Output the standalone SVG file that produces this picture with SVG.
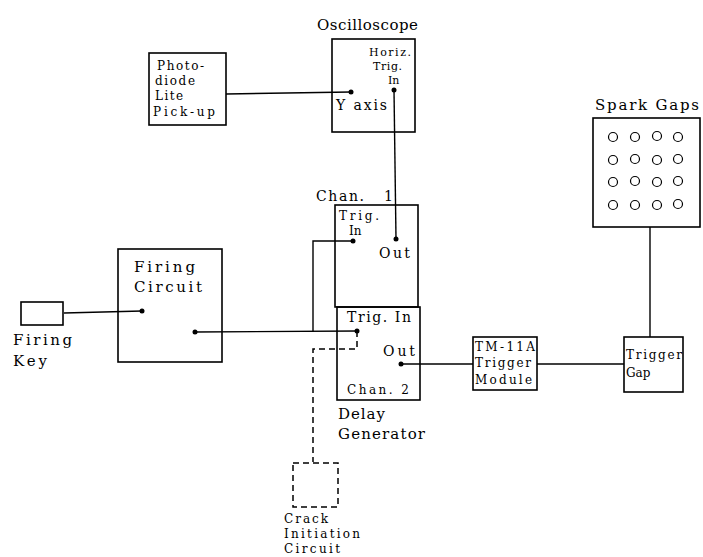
<svg xmlns="http://www.w3.org/2000/svg" width="703" height="557" viewBox="0 0 703 557">
<style>
.b{fill:none;stroke:#000;stroke-width:1.6}
.c{fill:none;stroke:#000;stroke-width:1.4}
.d{fill:none;stroke:#000;stroke-width:1.5;stroke-dasharray:6 4}
.t{font-family:"DejaVu Serif","Liberation Serif",serif;fill:#000}
.L{font-size:15px}
.M{font-size:14px}
.S{font-size:12px}
.X{font-size:11px}
circle.p{fill:#000}
circle.o{fill:none;stroke:#000;stroke-width:1.2}
</style>
<rect width="703" height="557" fill="#fff"/>
<g id="connectors">
<path class="c" d="M226 94 L351 92"/>
<path class="c" d="M394 90 L396 239"/>
<path class="c" d="M64 313 L142 311"/>
<path class="c" d="M195 332 L357 331"/>
<path class="c" d="M313 332 L313 241 L353 241"/>
<path class="d" d="M357 331 L357 349 L313 349 L313 462"/>
<path class="c" d="M401 364 L473 364"/>
<path class="c" d="M537 364 L624 364"/>
<path class="c" d="M650 227 L650 337"/>
<circle class="p" cx="351" cy="92" r="2.5"/>
<circle class="p" cx="394" cy="90" r="2.5"/>
<circle class="p" cx="396" cy="239" r="2.5"/>
<circle class="p" cx="142" cy="311" r="2.5"/>
<circle class="p" cx="195" cy="332" r="2.5"/>
<circle class="p" cx="353" cy="241" r="2.5"/>
<circle class="p" cx="357" cy="331" r="2.5"/>
<circle class="p" cx="401" cy="364" r="2.5"/>
</g>
<g id="oscilloscope">
<rect class="b" x="332" y="39" width="83" height="93"/>
<text class="t L" x="317" y="30" textLength="101" lengthAdjust="spacing">Oscilloscope</text>
<text class="t X" x="369" y="56" textLength="42" lengthAdjust="spacing">Horiz.</text>
<text class="t X" x="373" y="70" textLength="29" lengthAdjust="spacing">Trig.</text>
<text class="t X" x="388" y="84">In</text>
<text class="t M" x="336" y="110" textLength="51" lengthAdjust="spacing">Y axis</text>
</g>
<g id="photodiode">
<rect class="b" x="149" y="53" width="77" height="72"/>
<text class="t S" x="157" y="70" textLength="47" lengthAdjust="spacing">Photo-</text>
<text class="t S" x="155" y="85" textLength="40" lengthAdjust="spacing">diode</text>
<text class="t S" x="155" y="100" textLength="28" lengthAdjust="spacing">Lite</text>
<text class="t S" x="153" y="116" textLength="62" lengthAdjust="spacing">Pick-up</text>
</g>
<g id="firing-key">
<rect class="b" x="21" y="302" width="42" height="23"/>
<text class="t L" x="13" y="345" textLength="59" lengthAdjust="spacing">Firing</text>
<text class="t L" x="13" y="366" textLength="34" lengthAdjust="spacing">Key</text>
</g>
<g id="firing-circuit">
<rect class="b" x="118" y="249" width="104" height="113"/>
<text class="t L" x="134" y="272" textLength="61" lengthAdjust="spacing">Firing</text>
<text class="t L" x="134" y="292" textLength="68" lengthAdjust="spacing">Circuit</text>
</g>
<g id="delay-generator">
<rect class="b" x="335" y="205" width="83" height="102"/>
<rect class="b" x="337" y="307" width="83" height="93"/>
<text class="t M" x="316" y="201" textLength="48" lengthAdjust="spacing">Chan.</text>
<text class="t M" x="384" y="201">1</text>
<text class="t S" x="339" y="220" textLength="40" lengthAdjust="spacing">Trig.</text>
<text class="t S" x="349" y="235">In</text>
<text class="t M" x="379" y="258" textLength="31" lengthAdjust="spacing">Out</text>
<text class="t M" x="347" y="322" textLength="64" lengthAdjust="spacing">Trig. In</text>
<text class="t M" x="383" y="356" textLength="32" lengthAdjust="spacing">Out</text>
<text class="t S" x="347" y="394" textLength="62" lengthAdjust="spacing">Chan.  2</text>
<text class="t L" x="338" y="419" textLength="47" lengthAdjust="spacing">Delay</text>
<text class="t L" x="338" y="439" textLength="87" lengthAdjust="spacing">Generator</text>
</g>
<g id="crack-initiation">
<rect class="d" x="293" y="463" width="45" height="44"/>
<text class="t S" x="284" y="523" textLength="44" lengthAdjust="spacing">Crack</text>
<text class="t S" x="284" y="538" textLength="76" lengthAdjust="spacing">Initiation</text>
<text class="t S" x="284" y="553" textLength="56" lengthAdjust="spacing">Circuit</text>
</g>
<g id="trigger-module">
<rect class="b" x="473" y="337" width="64" height="53"/>
<text class="t S" x="475" y="351" textLength="60" lengthAdjust="spacing">TM-11A</text>
<text class="t S" x="475" y="367" textLength="56" lengthAdjust="spacing">Trigger</text>
<text class="t S" x="475" y="384" textLength="57" lengthAdjust="spacing">Module</text>
</g>
<g id="trigger-gap">
<rect class="b" x="624" y="337" width="59" height="55"/>
<text class="t S" x="626" y="359" textLength="56" lengthAdjust="spacing">Trigger</text>
<text class="t S" x="626" y="377">Gap</text>
</g>
<g id="spark-gaps">
<rect class="b" x="593" y="118" width="107" height="109"/>
<text class="t L" x="595" y="110" textLength="104" lengthAdjust="spacing">Spark Gaps</text>
<g>
<circle class="o" cx="613" cy="137" r="4.5"/><circle class="o" cx="635" cy="137" r="4.5"/><circle class="o" cx="657" cy="136" r="4.5"/><circle class="o" cx="678" cy="137" r="4.5"/>
<circle class="o" cx="613" cy="160" r="4.5"/><circle class="o" cx="635" cy="159" r="4.5"/><circle class="o" cx="657" cy="160" r="4.5"/><circle class="o" cx="678" cy="159" r="4.5"/>
<circle class="o" cx="613" cy="182" r="4.5"/><circle class="o" cx="635" cy="181" r="4.5"/><circle class="o" cx="657" cy="182" r="4.5"/><circle class="o" cx="678" cy="181" r="4.5"/>
<circle class="o" cx="613" cy="205" r="4.5"/><circle class="o" cx="635" cy="205" r="4.5"/><circle class="o" cx="657" cy="205" r="4.5"/><circle class="o" cx="678" cy="204" r="4.5"/>
</g>
</g>
</svg>
